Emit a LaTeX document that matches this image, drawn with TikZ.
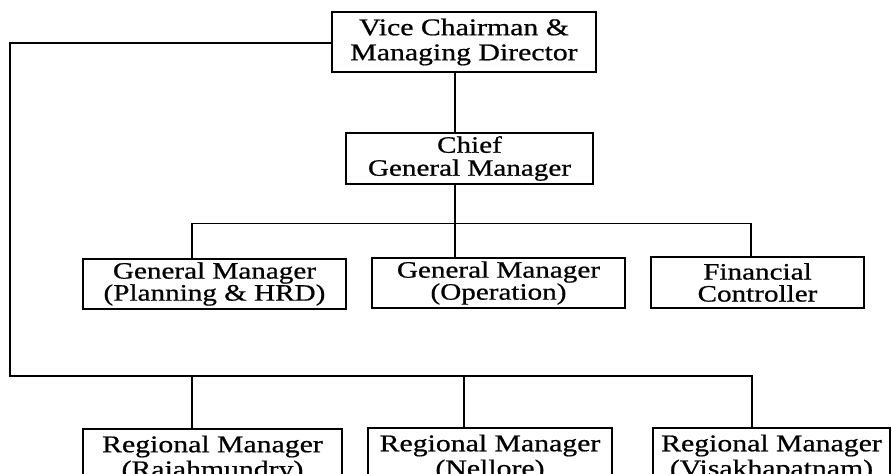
\documentclass[tikz,border=0pt]{standalone}
\usepackage{fontspec}
\setmainfont[FakeStretch=1.24,FakeBold=0.7]{Liberation Serif}
\begin{document}
\begin{tikzpicture}[x=1pt,y=-1pt,
  line width=1.2pt,
  orgbox/.style={draw, line width=1.2pt, align=center, inner sep=0pt,
    font=\fontsize{24}{24}\selectfont},
  wide/.style={font=\fontsize{24}{25}\selectfont},
  mid/.style={font=\fontsize{23.5}{23}\selectfont},
  tight/.style={font=\fontsize{23.5}{22}\selectfont}]
\useasboundingbox (0,0) rectangle (892,474);
\clip (0,0) rectangle (892,474);

% boxes
\node[orgbox, wide, minimum width=264pt, minimum height=60pt] (vc) at (464,42)
  {Vice Chairman \&\\Managing Director};
\node[orgbox, mid, minimum width=247pt, minimum height=51pt] (cgm) at (469.5,158.5)
  {Chief\\General Manager};
\node[orgbox, tight, minimum width=263pt, minimum height=50pt] (gmp) at (214.5,284)
  {General Manager\\(Planning \& HRD)};
\node[orgbox, tight, minimum width=253pt, minimum height=50pt] (gmo) at (498.5,283)
  {General Manager\\(Operation)};
\node[orgbox, tight, minimum width=213pt, minimum height=51pt] (fc) at (757.5,282.5)
  {Financial\\Controller};
\node[orgbox, wide, minimum width=259pt, minimum height=60pt] (rm1) at (212.5,459)
  {Regional Manager\\(Rajahmundry)};
\node[orgbox, wide, minimum width=244pt, minimum height=60pt] (rm2) at (490,458)
  {Regional Manager\\(Nellore)};
\node[orgbox, wide, minimum width=237pt, minimum height=60pt] (rm3) at (771.5,458)
  {Regional Manager\\(Visakhapatnam)};

% routing points
\coordinate (spine) at (455,0);
\coordinate (hq) at (10,43);
\coordinate (busA) at (0,223.5);
\coordinate (busB) at (0,376);
\coordinate (d1) at (192,0);
\coordinate (d3) at (751,0);
\coordinate (r2) at (464,0);
\coordinate (r3) at (752,0);

% management chain
\draw (vc.south -| spine) -- (cgm.north -| spine);
\draw (cgm.south -| spine) -- (gmo.north -| spine);
\draw (gmp.north -| d1) -- (busA -| d1) -- (busA -| d3) -- (fc.north -| d3);

% regional branch
\draw (vc.west |- hq) -- (hq) -- (busB -| hq) -- (busB -| r3) -- (rm3.north -| r3);
\draw (busB -| d1) -- (rm1.north -| d1);
\draw (busB -| r2) -- (rm2.north -| r2);
\end{tikzpicture}
\end{document}
